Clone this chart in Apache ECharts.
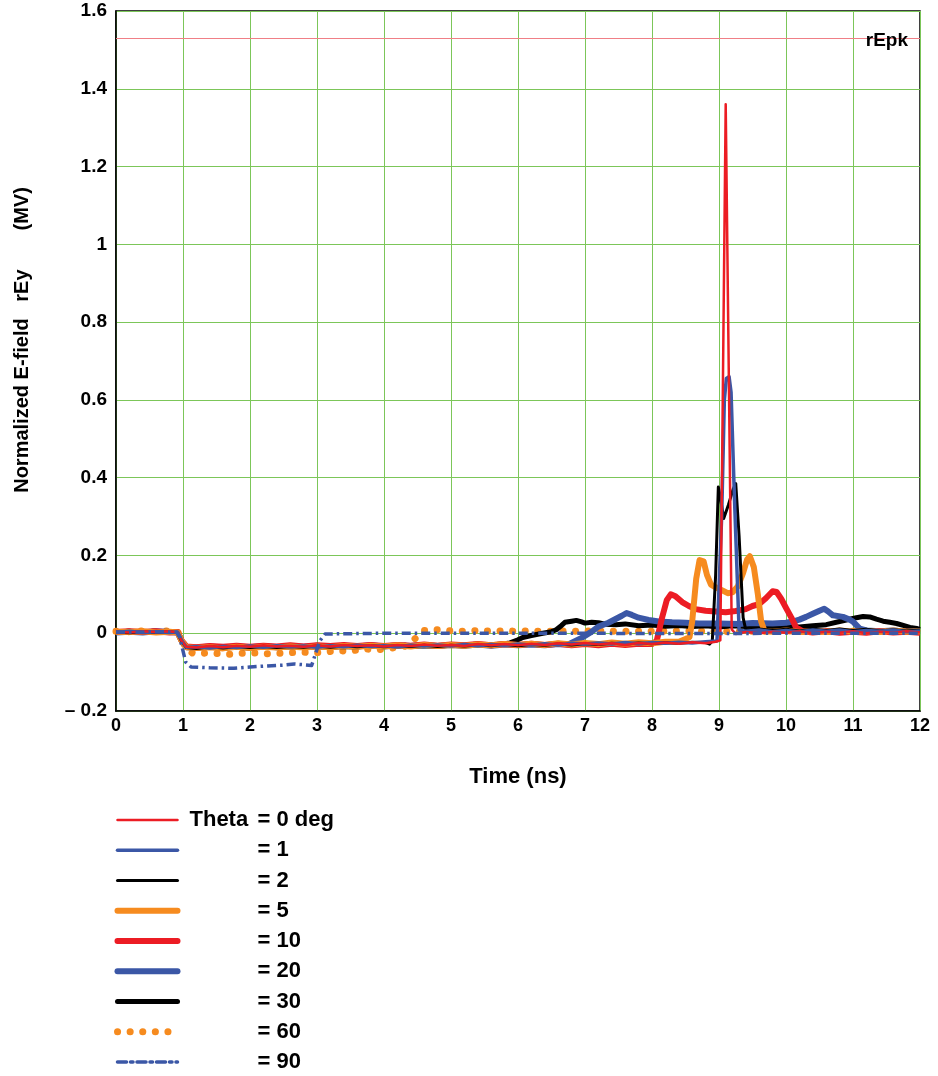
<!DOCTYPE html>
<html>
<head>
<meta charset="utf-8">
<script src="https://cdn.jsdelivr.net/npm/echarts@6/dist/echarts.min.js"></script>
<style>
  html, body { margin: 0; padding: 0; background: #fff; }
  #chart { width: 938px; height: 1076px; }
</style>
</head>
<body>
<div id="chart"></div>
<script>
// Normalized E-field rEy (MV) versus time (ns), one trace per observation angle theta.
const thetaNames = ['Theta = 0 deg', '= 1', '= 2', '= 5', '= 10', '= 20', '= 30', '= 60', '= 90'];
const xTicks = [0, 1, 2, 3, 4, 5, 6, 7, 8, 9, 10, 11, 12];
const yTicks = [-0.2, 0, 0.2, 0.4, 0.6, 0.8, 1, 1.2, 1.4, 1.6];
const rEpk = 1.53;

// theta = 0 deg
const theta0 = [[0,0.004],[0.2,0.002],[0.4,0.005],[0.6,0.003],[0.8,0.005],[0.92,0.002],[0.98,-0.02],[1.05,-0.035],[1.2,-0.037],[1.4,-0.033],[1.6,-0.036],[1.8,-0.032],[2.0,-0.035],[2.2,-0.031],[2.4,-0.034],[2.6,-0.032],[2.8,-0.035],[3.0,-0.031],[3.2,-0.034],[3.4,-0.03],[3.6,-0.033],[3.8,-0.031],[4.0,-0.034],[4.2,-0.03],[4.4,-0.033],[4.6,-0.029],[4.8,-0.032],[5.0,-0.03],[5.2,-0.033],[5.4,-0.028],[5.6,-0.031],[5.8,-0.028],[6.0,-0.031],[6.2,-0.027],[6.4,-0.03],[6.6,-0.026],[6.8,-0.029],[7.0,-0.025],[7.2,-0.029],[7.4,-0.026],[7.6,-0.03],[7.8,-0.025],[8.0,-0.028],[8.2,-0.024],[8.4,-0.027],[8.6,-0.023],[8.8,-0.026],[8.95,-0.022],[9.02,-0.018],[9.1,1.36],[9.19,0.01],[9.25,-0.002],[9.4,0.003],[9.6,0.0],[9.8,0.004],[10.0,0.001],[10.2,0.005],[10.4,0.0],[10.6,0.004],[10.8,0.001],[11.0,0.005],[11.2,0.0],[11.4,0.004],[11.6,0.001],[11.8,0.005],[12,0.002]];
// theta = 1 deg
const theta1 = [[0,0.002],[0.2,0.005],[0.4,0.002],[0.6,0.004],[0.8,0.002],[0.92,0.003],[0.98,-0.018],[1.05,-0.036],[1.2,-0.035],[1.4,-0.038],[1.6,-0.034],[1.8,-0.037],[2.0,-0.033],[2.2,-0.036],[2.4,-0.032],[2.6,-0.035],[2.8,-0.033],[3.0,-0.036],[3.2,-0.032],[3.4,-0.035],[3.6,-0.031],[3.8,-0.034],[4.0,-0.032],[4.2,-0.035],[4.4,-0.031],[4.6,-0.033],[4.8,-0.03],[5.0,-0.033],[5.2,-0.029],[5.4,-0.032],[5.6,-0.029],[5.8,-0.031],[6.0,-0.028],[6.2,-0.03],[6.4,-0.027],[6.6,-0.03],[6.8,-0.026],[7.0,-0.028],[7.2,-0.025],[7.4,-0.028],[7.6,-0.024],[7.8,-0.027],[8.0,-0.024],[8.2,-0.026],[8.4,-0.023],[8.6,-0.025],[8.8,-0.022],[8.97,-0.02],[9.04,0.3],[9.08,0.6],[9.11,0.655],[9.15,0.66],[9.18,0.62],[9.23,0.35],[9.3,0.008],[9.4,0.005],[9.6,0.008],[9.8,0.004],[10.0,0.007],[10.2,0.004],[10.4,0.008],[10.6,0.005],[10.8,0.008],[11.0,0.004],[11.2,0.007],[11.4,0.005],[11.6,0.008],[11.8,0.004],[12,0.006]];
// theta = 2 deg
const theta2 = [[0,0.003],[0.2,0.001],[0.4,0.004],[0.6,0.002],[0.8,0.004],[0.92,0.001],[0.98,-0.021],[1.05,-0.037],[1.2,-0.039],[1.4,-0.035],[1.6,-0.038],[1.8,-0.035],[2.0,-0.037],[2.2,-0.034],[2.4,-0.037],[2.6,-0.034],[2.8,-0.036],[3.0,-0.033],[3.2,-0.036],[3.4,-0.033],[3.6,-0.035],[3.8,-0.032],[4.0,-0.035],[4.2,-0.032],[4.4,-0.034],[4.6,-0.031],[4.8,-0.034],[5.0,-0.031],[5.2,-0.033],[5.4,-0.03],[5.6,-0.032],[5.8,-0.029],[6.0,-0.032],[6.2,-0.029],[6.4,-0.031],[6.6,-0.028],[6.8,-0.03],[7.0,-0.027],[7.2,-0.029],[7.4,-0.026],[7.6,-0.028],[7.8,-0.025],[8.0,-0.027],[8.2,-0.024],[8.4,-0.026],[8.6,-0.023],[8.8,-0.024],[8.86,-0.028],[8.9,-0.02],[8.95,0.15],[8.99,0.376],[9.02,0.35],[9.07,0.295],[9.14,0.33],[9.21,0.37],[9.25,0.385],[9.3,0.25],[9.36,0.04],[9.4,0.008],[9.6,0.011],[9.8,0.007],[10.0,0.01],[10.2,0.006],[10.4,0.01],[10.6,0.007],[10.8,0.011],[11.0,0.007],[11.2,0.01],[11.4,0.006],[11.6,0.009],[11.8,0.006],[12,0.008]];
// theta = 5 deg
const theta5 = [[0,0.004],[0.2,0.003],[0.4,0.005],[0.6,0.002],[0.8,0.004],[0.92,0.002],[0.98,-0.02],[1.05,-0.036],[1.2,-0.038],[1.4,-0.036],[1.6,-0.039],[1.8,-0.035],[2.0,-0.038],[2.2,-0.035],[2.4,-0.037],[2.6,-0.034],[2.8,-0.037],[3.0,-0.034],[3.2,-0.036],[3.4,-0.033],[3.6,-0.035],[3.8,-0.032],[4.0,-0.034],[4.2,-0.031],[4.4,-0.034],[4.6,-0.03],[4.8,-0.033],[5.0,-0.03],[5.2,-0.032],[5.4,-0.029],[5.6,-0.031],[5.8,-0.028],[6.0,-0.03],[6.2,-0.027],[6.4,-0.03],[6.6,-0.026],[6.8,-0.029],[7.0,-0.025],[7.2,-0.028],[7.4,-0.024],[7.6,-0.027],[7.8,-0.023],[8.0,-0.026],[8.2,-0.022],[8.4,-0.022],[8.5,-0.015],[8.56,-0.01],[8.6,0.03],[8.66,0.14],[8.71,0.188],[8.77,0.185],[8.82,0.15],[8.88,0.125],[8.95,0.118],[9.05,0.11],[9.13,0.103],[9.2,0.105],[9.28,0.12],[9.36,0.155],[9.42,0.19],[9.46,0.198],[9.52,0.17],[9.58,0.1],[9.63,0.03],[9.68,0.005],[9.8,0.004],[10.0,0.007],[10.2,0.003],[10.4,0.006],[10.6,0.003],[10.8,0.007],[11.0,0.004],[11.2,0.006],[11.4,0.003],[11.6,0.007],[11.8,0.004],[12,0.005]];
// theta = 10 deg
const theta10 = [[0,0.003],[0.2,0.005],[0.4,0.003],[0.6,0.005],[0.8,0.002],[0.92,0.003],[0.98,-0.019],[1.05,-0.034],[1.2,-0.036],[1.4,-0.033],[1.6,-0.035],[1.8,-0.032],[2.0,-0.035],[2.2,-0.032],[2.4,-0.034],[2.6,-0.031],[2.8,-0.034],[3.0,-0.031],[3.2,-0.033],[3.4,-0.03],[3.6,-0.033],[3.8,-0.03],[4.0,-0.033],[4.2,-0.03],[4.4,-0.032],[4.6,-0.029],[4.8,-0.032],[5.0,-0.029],[5.2,-0.031],[5.4,-0.028],[5.6,-0.031],[5.8,-0.028],[6.0,-0.03],[6.2,-0.027],[6.4,-0.03],[6.6,-0.027],[6.8,-0.031],[7.0,-0.028],[7.2,-0.031],[7.4,-0.027],[7.6,-0.03],[7.8,-0.027],[8.0,-0.028],[8.07,-0.02],[8.15,0.04],[8.22,0.085],[8.28,0.1],[8.35,0.095],[8.45,0.08],[8.55,0.07],[8.65,0.062],[8.8,0.058],[8.95,0.056],[9.1,0.054],[9.25,0.057],[9.4,0.062],[9.5,0.07],[9.6,0.075],[9.7,0.09],[9.8,0.108],[9.86,0.106],[9.93,0.088],[10.0,0.065],[10.08,0.04],[10.15,0.015],[10.25,0.005],[10.4,0.002],[10.6,0.005],[10.8,0.001],[11.0,0.004],[11.2,0.001],[11.4,0.005],[11.6,0.002],[11.8,0.004],[12,0.001]];
// theta = 20 deg
const theta20 = [[0,0.002],[0.2,0.004],[0.4,0.002],[0.6,0.005],[0.8,0.003],[0.92,0.002],[0.98,-0.02],[1.05,-0.036],[1.2,-0.037],[1.4,-0.034],[1.6,-0.037],[1.8,-0.034],[2.0,-0.036],[2.2,-0.033],[2.4,-0.036],[2.6,-0.033],[2.8,-0.035],[3.0,-0.032],[3.2,-0.035],[3.4,-0.032],[3.6,-0.034],[3.8,-0.031],[4.0,-0.034],[4.2,-0.031],[4.4,-0.033],[4.6,-0.03],[4.8,-0.033],[5.0,-0.03],[5.2,-0.032],[5.4,-0.029],[5.6,-0.032],[5.8,-0.029],[6.0,-0.031],[6.2,-0.029],[6.4,-0.031],[6.6,-0.028],[6.75,-0.029],[6.95,-0.012],[7.1,0.004],[7.2,0.017],[7.35,0.027],[7.45,0.036],[7.55,0.045],[7.62,0.052],[7.7,0.047],[7.8,0.04],[7.95,0.034],[8.1,0.03],[8.3,0.028],[8.5,0.027],[8.7,0.025],[9.0,0.025],[9.3,0.024],[9.5,0.026],[9.8,0.025],[10.0,0.027],[10.1,0.03],[10.2,0.035],[10.3,0.042],[10.4,0.05],[10.5,0.058],[10.57,0.063],[10.63,0.056],[10.7,0.046],[10.85,0.042],[10.95,0.035],[11.0,0.03],[11.1,0.012],[11.2,0.007],[11.4,0.005],[11.6,0.007],[11.8,0.004],[12,0.006]];
// theta = 30 deg
const theta30 = [[0,0.003],[0.2,0.002],[0.4,0.004],[0.6,0.002],[0.8,0.004],[0.92,0.001],[0.98,-0.02],[1.05,-0.036],[1.2,-0.038],[1.4,-0.036],[1.6,-0.038],[1.8,-0.036],[2.0,-0.038],[2.2,-0.035],[2.4,-0.037],[2.6,-0.035],[2.8,-0.037],[3.0,-0.035],[3.2,-0.036],[3.4,-0.034],[3.6,-0.035],[3.8,-0.033],[4.0,-0.034],[4.2,-0.032],[4.4,-0.034],[4.6,-0.032],[4.8,-0.033],[5.0,-0.031],[5.2,-0.032],[5.4,-0.029],[5.6,-0.03],[5.8,-0.027],[5.88,-0.025],[6.0,-0.017],[6.07,-0.011],[6.2,-0.006],[6.37,0.0],[6.5,0.004],[6.57,0.009],[6.65,0.02],[6.7,0.028],[6.8,0.031],[6.87,0.033],[6.95,0.029],[7.0,0.026],[7.1,0.028],[7.2,0.027],[7.3,0.023],[7.46,0.022],[7.6,0.024],[7.8,0.019],[8.0,0.021],[8.2,0.018],[8.4,0.02],[8.6,0.017],[8.8,0.019],[9.0,0.016],[9.2,0.019],[9.4,0.017],[9.6,0.019],[9.8,0.016],[10.0,0.018],[10.2,0.016],[10.4,0.019],[10.6,0.022],[10.8,0.03],[10.95,0.036],[11.05,0.04],[11.15,0.043],[11.25,0.042],[11.35,0.036],[11.45,0.031],[11.55,0.028],[11.65,0.025],[11.75,0.02],[11.85,0.015],[11.95,0.012],[12,0.01]];
// theta = 60 deg
const theta60 = [[0,0.005],[0.2,0.004],[0.4,0.006],[0.6,0.004],[0.8,0.006],[0.92,0.004],[0.98,-0.015],[1.05,-0.042],[1.15,-0.052],[1.4,-0.051],[1.7,-0.054],[2.0,-0.05],[2.3,-0.053],[2.6,-0.05],[2.8,-0.049],[3.0,-0.05],[3.15,-0.048],[3.3,-0.045],[3.5,-0.046],[3.7,-0.04],[3.9,-0.043],[4.1,-0.038],[4.28,-0.037],[4.45,-0.016],[4.6,0.007],[4.8,0.009],[5.0,0.006],[5.2,0.005],[5.4,0.007],[5.6,0.005],[5.8,0.006],[6.0,0.005],[6.2,0.006],[6.4,0.004],[6.6,0.006],[6.8,0.005],[7.0,0.006],[7.5,0.005],[8.0,0.005],[8.5,0.006],[9.0,0.004],[9.5,0.005],[10.0,0.006],[10.5,0.004],[11.0,0.005],[11.5,0.004],[12,0.005]];
// theta = 90 deg
const theta90 = [[0,0.003],[0.3,0.003],[0.6,0.004],[0.9,0.003],[0.95,-0.01],[1.04,-0.074],[1.12,-0.087],[1.4,-0.089],[1.76,-0.09],[2.0,-0.087],[2.26,-0.084],[2.5,-0.082],[2.66,-0.079],[2.8,-0.081],[2.92,-0.083],[3.04,-0.02],[3.12,-0.002],[4.0,0.0],[5.0,0.0],[6.0,0.0],[7.0,0.0],[8.0,-0.001],[9.0,-0.001],[10.0,0.0],[11.0,0.0],[12,0.0]];

const seriesData = [theta0, theta1, theta2, theta5, theta10, theta20, theta30, theta60, theta90];
const RED = '#ec1c24', BLUE = '#3b57a6', BLACK = '#000000', ORANGE = '#f68b1f';
const styles = [
  { color: RED,    width: 2.5, type: 'solid', z: 9 },
  { color: BLUE,   width: 3.5, type: 'solid', z: 8 },
  { color: BLACK,  width: 3,   type: 'solid', z: 7 },
  { color: ORANGE, width: 6,   type: 'solid', z: 6 },
  { color: RED,    width: 6,   type: 'solid', z: 5 },
  { color: BLUE,   width: 6,   type: 'solid', z: 4 },
  { color: BLACK,  width: 5,   type: 'solid', z: 3 },
  { color: ORANGE, width: 7,   type: [0.1, 12.5], cap: 'round', z: 2 },
  { color: BLUE,   width: 3.5, type: [9, 4, 2.5, 4], z: 10 }
];

const FONT = 'Liberation Sans, Arial, sans-serif';

const series = thetaNames.map((name, i) => {
  const s = styles[i];
  const item = {
    name: name,
    type: 'line',
    data: seriesData[i],
    symbol: 'none',
    showSymbol: false,
    z: s.z,
    itemStyle: { color: s.color },
    lineStyle: { color: s.color, width: s.width, type: s.type, cap: s.cap || 'butt', join: 'round' },
    animation: false
  };
  if (i === 0) {
    // peak reference level
    item.markLine = {
      silent: true,
      symbol: 'none',
      lineStyle: { color: '#f07f86', width: 1, type: 'solid' },
      label: {
        show: true, position: 'insideEndTop', distance: 0, offset: [-12, 12],
        formatter: 'rEpk', color: '#000', fontFamily: FONT, fontWeight: 'bold', fontSize: 19
      },
      data: [{ yAxis: rEpk }]
    };
  }
  return item;
});

const legendItems = thetaNames.map((name, i) => ({
  name: name,
  lineStyle: {
    width: styles[i].width, color: styles[i].color, type: styles[i].type,
    cap: styles[i].cap || 'round'
  },
  itemStyle: { color: 'transparent', borderWidth: 0, opacity: 0 }
}));

const richText = { fontFamily: FONT, fontWeight: 'bold', fontSize: 22, color: '#000', lineHeight: 22, height: 22 };

const chart = echarts.init(document.getElementById('chart'), null, { renderer: 'canvas' });
chart.setOption({
  animation: false,
  backgroundColor: '#ffffff',
  grid: { left: 116, top: 11, width: 804, height: 700, show: true, borderColor: '#000', borderWidth: 1.5, containLabel: false },
  xAxis: {
    type: 'value', min: xTicks[0], max: xTicks[xTicks.length - 1], interval: 1,
    name: 'Time (ns)', nameLocation: 'middle', nameGap: 55,
    nameTextStyle: { fontFamily: FONT, fontWeight: 'bold', fontSize: 22, color: '#000' },
    axisLine: { show: true, onZero: false, lineStyle: { color: '#000', width: 1.5 } },
    axisTick: { show: false },
    axisLabel: { margin: 6, fontFamily: FONT, fontWeight: 'bold', fontSize: 18, color: '#000' },
    splitLine: { show: true, lineStyle: { color: '#7cc659', width: 1 } }
  },
  yAxis: {
    type: 'value', min: yTicks[0], max: yTicks[yTicks.length - 1], interval: 0.2,
    axisLine: { show: true, onZero: false, lineStyle: { color: '#000', width: 1.5 } },
    axisTick: { show: false },
    axisLabel: {
      margin: 9, fontFamily: FONT, fontWeight: 'bold', fontSize: 19, color: '#000',
      formatter: v => {
        const r = Math.round(v * 10) / 10;
        if (r === 0) return '0';
        if (r < 0) return '\u2013 ' + Math.abs(r).toFixed(1);
        return Number.isInteger(r) ? String(r) : r.toFixed(1);
      }
    },
    splitLine: { show: true, lineStyle: { color: '#7cc659', width: 1 } }
  },
  legend: {
    orient: 'vertical', left: 109, top: 804, height: 272,
    padding: 5,
    itemWidth: 60, itemHeight: 14, itemGap: 8.25,
    data: legendItems,
    selectedMode: false,
    textStyle: {
      fontFamily: FONT, fontWeight: 'bold', fontSize: 22, color: '#000', lineHeight: 22,
      rich: {
        s: Object.assign({ width: 7 }, richText),
        a: Object.assign({ width: 68 }, richText),
        b: Object.assign({}, richText)
      }
    },
    formatter: name => name === thetaNames[0]
      ? '{s| }{a|Theta}{b|= 0 deg}'
      : '{s| }{a| }{b|' + name + '}'
  },
  graphic: [{
    type: 'text', x: 22, y: 340, rotation: Math.PI / 2,
    style: {
      text: 'Normalized E-field   rEy       (MV)', textAlign: 'center', textVerticalAlign: 'middle',
      font: 'bold 20px ' + FONT, fill: '#000'
    }
  }],
  series: series
});
</script>
</body>
</html>
